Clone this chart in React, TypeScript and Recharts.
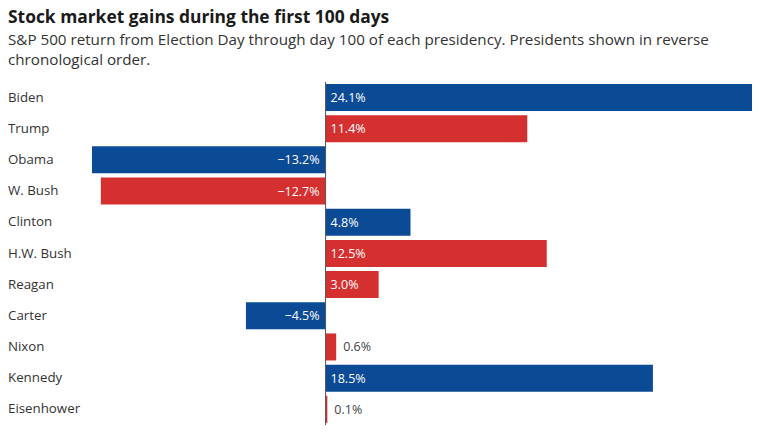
import React from "react";
import { BarChart, Bar, XAxis, YAxis, Cell, LabelList, ReferenceLine } from "recharts";

const presidents = ["Biden", "Trump", "Obama", "W. Bush", "Clinton", "H.W. Bush", "Reagan", "Carter", "Nixon", "Kennedy", "Eisenhower"];
const returns = [24.1, 11.4, -13.2, -12.7, 4.8, 12.5, 3.0, -4.5, 0.6, 18.5, 0.1];
const parties = ["D", "R", "D", "R", "D", "R", "R", "D", "R", "D", "R"];

const BLUE = "#0b4a94";
const RED = "#d3302f";
const FONT = "'Open Sans', Lato, sans-serif";

const data = presidents.map((name, i) => ({ name, value: returns[i], party: parties[i] }));

const fmt = (v: number) => (v < 0 ? "\u2212" + Math.abs(v).toFixed(1) : v.toFixed(1)) + "%";

const CategoryTick = (props: any) => {
  const { y, payload } = props;
  return (
    <text x={8} y={y} dy={4} fontSize={13.3} fill="#333" fontFamily={FONT} textAnchor="start">
      {payload.value}
    </text>
  );
};

const ValueLabel = (props: any) => {
  const { x, y, width, height, value } = props;
  const v = Number(value);
  const cy = y + height / 2 + 4.5;
  const left = Math.min(x, x + width);
  const right = Math.max(x, x + width);
  if (v < 0) {
    return (
      <text x={right - 6} y={cy} fontSize={12.5} fill="#fff" fontFamily={FONT} textAnchor="end">
        {fmt(v)}
      </text>
    );
  }
  if (v < 2) {
    return (
      <text x={right + 7} y={cy} fontSize={12.5} fill="#444" fontFamily={FONT} textAnchor="start">
        {fmt(v)}
      </text>
    );
  }
  return (
    <text x={left + 5} y={cy} fontSize={12.5} fill="#fff" fontFamily={FONT} textAnchor="start">
      {fmt(v)}
    </text>
  );
};

export default function App() {
  return (
    <div style={{ position: "absolute", left: 0, top: 0, width: 760, height: 432, background: "#fff", fontFamily: FONT }}>
      <div style={{ position: "absolute", left: 8, top: 4, fontSize: 17.4, fontWeight: 700, color: "#1a1a1a" }}>
        Stock market gains during the first 100 days
      </div>
      <div style={{ position: "absolute", left: 8, top: 29, width: 740, fontSize: 15.2, lineHeight: "20px", color: "#333" }}>
        S&amp;P 500 return from Election Day through day 100 of each presidency. Presidents shown in reverse chronological order.
      </div>
      <BarChart
        width={760}
        height={432}
        data={data}
        layout="vertical"
        margin={{ top: 82, right: 8, bottom: 7, left: 0 }}
        barCategoryGap={4}
      >
        <XAxis type="number" domain={[-13.2, 24.1]} hide />
        <YAxis
          type="category"
          dataKey="name"
          width={92}
          axisLine={false}
          tickLine={false}
          tick={<CategoryTick />}
        />
        <Bar dataKey="value" isAnimationActive={false} barSize={27}>
          {data.map((d, i) => (
            <Cell key={i} fill={d.party === "D" ? BLUE : RED} />
          ))}
          <LabelList dataKey="value" content={<ValueLabel />} />
        </Bar>
        <ReferenceLine x={0} stroke="#555" strokeWidth={1} />
      </BarChart>
    </div>
  );
}
